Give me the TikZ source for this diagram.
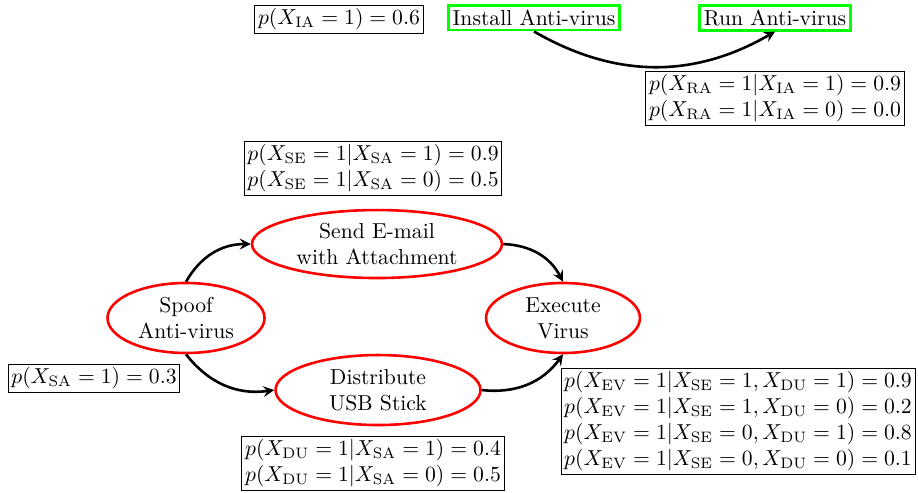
\documentclass[tikz,border=0pt]{standalone}
\usepackage{xcolor}
\usepackage{tikz}
\usepackage{amsmath,amssymb}
\usetikzlibrary{shapes.geometric, arrows.meta, positioning}

\begin{document}
\begin{tikzpicture}[
  event/.style={ellipse, draw=red, very thick, inner sep=0pt, align=center},
  control/.style={rectangle, draw=green, very thick, inner sep=2pt},
  prob/.style={rectangle, draw, thin, inner sep=1.5pt, align=left},
  arrow/.style={->, very thick, >=stealth}
]
  \useasboundingbox (0,0) rectangle (14.908,-7.990);

  % countermeasure
  \node[prob] (pia) at (5.505,-0.309) {$p(X_{\mathrm{IA}}=1)=0.6$};
  \node[control] (ia) at (8.672,-0.292) {Install Anti-virus};
  \node[control] (ra) at (12.586,-0.292) {Run Anti-virus};
  \node[prob] (pra) at (12.586,-1.592) {$p(X_{\mathrm{RA}}=1|X_{\mathrm{IA}}=1)=0.9$\\$p(X_{\mathrm{RA}}=1|X_{\mathrm{IA}}=0)=0.0$};

  % attack
  \node[event, minimum width=4.06cm, minimum height=1.104cm] (se) at (6.122,-3.963) {Send E-mail\\with Attachment};
  \node[event, minimum width=2.55cm, minimum height=1.137cm] (sa) at (3.021,-5.164) {Spoof\\Anti-virus};
  \node[event, minimum width=2.50cm, minimum height=1.137cm] (ev) at (9.143,-5.164) {Execute\\Virus};
  \node[event, minimum width=3.329cm, minimum height=1.137cm] (du) at (6.139,-6.334) {Distribute\\USB Stick};

  \node[prob] (pse) at (6.058,-2.728) {$p(X_{\mathrm{SE}}=1|X_{\mathrm{SA}}=1)=0.9$\\$p(X_{\mathrm{SE}}=1|X_{\mathrm{SA}}=0)=0.5$};
  \node[prob] (psa) at (1.527,-6.139) {$p(X_{\mathrm{SA}}=1)=0.3$};
  \node[prob] (pdu) at (6.058,-7.519) {$p(X_{\mathrm{DU}}=1|X_{\mathrm{SA}}=1)=0.4$\\$p(X_{\mathrm{DU}}=1|X_{\mathrm{SA}}=0)=0.5$};
  \node[prob] (pev) at (11.985,-6.837) {$p(X_{\mathrm{EV}}=1|X_{\mathrm{SE}}=1,X_{\mathrm{DU}}=1)=0.9$\\$p(X_{\mathrm{EV}}=1|X_{\mathrm{SE}}=1,X_{\mathrm{DU}}=0)=0.2$\\$p(X_{\mathrm{EV}}=1|X_{\mathrm{SE}}=0,X_{\mathrm{DU}}=1)=0.8$\\$p(X_{\mathrm{EV}}=1|X_{\mathrm{SE}}=0,X_{\mathrm{DU}}=0)=0.1$};

  \draw[arrow] (ia.south) to[bend right=30] (ra.south);
  \draw[arrow] (sa.north) to[bend left=30] (se.west);
  \draw[arrow] (sa.south) to[bend right=30] (du.west);
  \draw[arrow] (se.east) to[bend left=30] (ev.north);
  \draw[arrow] (du.east) to[bend right=30] (ev.south);
\end{tikzpicture}
\end{document}
